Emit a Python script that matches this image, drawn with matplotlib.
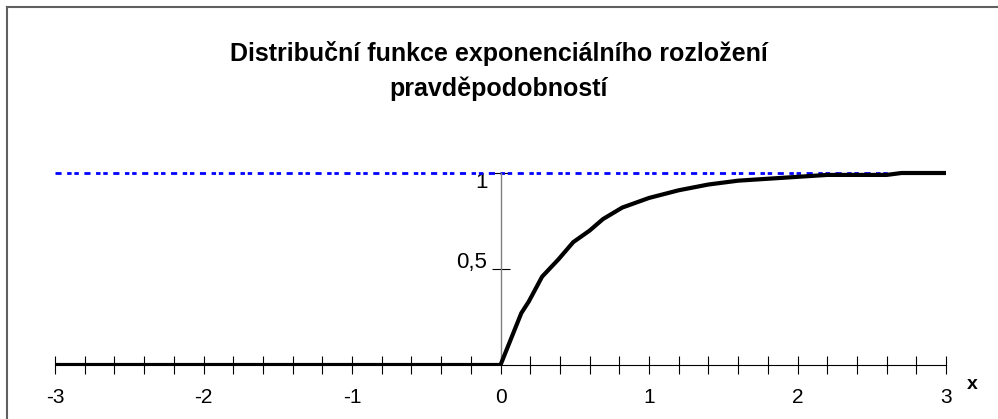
import matplotlib.pyplot as plt
from matplotlib.lines import Line2D
from matplotlib.transforms import ScaledTranslation
from matplotlib.ticker import MultipleLocator, FixedLocator, FixedFormatter

plt.rcParams['font.family'] = ['Liberation Sans', 'DejaVu Sans']

# distribution function F(x) read at the plotted points
x_vals = [-3.0, 0.0, 0.14, 0.19, 0.28, 0.39, 0.49, 0.6, 0.69, 0.82,
          1.0, 1.2, 1.4, 1.6, 1.8, 2.0, 2.2, 2.6, 2.7, 3.0]
f_vals = [0.0, 0.0, 0.27, 0.33, 0.46, 0.55, 0.64, 0.70, 0.76, 0.82,
          0.87, 0.91, 0.94, 0.96, 0.97, 0.98, 0.99, 0.99, 1.0, 1.0]

# asymptote F = 1
limit_x = [-3, 3]
limit_y = [1, 1]

y_ticks = [0.5, 1]
y_labels = ['0,5', '1']

W, H = 998, 419
fig = plt.figure(figsize=(W / 100, H / 100), dpi=100)
ax = fig.add_axes([55 / W, (H - 365) / H, (946 - 55) / W, 192 * 1.05 / H])

ax.plot(limit_x, limit_y, color='#0000ff', lw=2.0,
        linestyle=(0, (2.2, 2.0, 1.6, 1.0, 1.6, 2.0)), zorder=2)
ax.plot(x_vals, f_vals, color='black', lw=3, solid_joinstyle='miter', zorder=3)

ax.set_xlim(-3, 3)
ax.set_ylim(0, 1.05)

for s in ['top', 'right']:
    ax.spines[s].set_visible(False)
ax.spines['bottom'].set_position(('data', 0))
ax.spines['bottom'].set_color('black')
ax.spines['bottom'].set_linewidth(0.8)
ax.spines['left'].set_position(('data', 0))
ax.spines['left'].set_color('#808080')
ax.spines['left'].set_linewidth(1.0)
ax.spines['left'].set_bounds(0, 1)

ax.xaxis.set_major_locator(MultipleLocator(1))
ax.xaxis.set_minor_locator(MultipleLocator(0.2))
ax.xaxis.set_major_formatter(plt.FuncFormatter(lambda v, p: f'{v:g}'))
ax.tick_params(axis='x', which='both', direction='inout', length=13,
               width=0.8, color='black', labelsize=15, pad=10)

ax.yaxis.set_major_locator(FixedLocator(y_ticks))
ax.yaxis.set_major_formatter(FixedFormatter(y_labels))
ax.tick_params(axis='y', which='major', direction='inout', length=13,
               width=0.8, color='black', labelsize=16, pad=3)
# labels sit a little off their ticks: 0,5 above, 1 below
for lab, dy in zip(ax.get_yticklabels(), [9, -7]):
    lab.set_transform(lab.get_transform() + ScaledTranslation(0, dy / 100, fig.dpi_scale_trans))
ax.set_facecolor('none')

ax.text(3.14, -0.1, 'x', fontsize=14, fontweight='bold', ha='left', va='center')

fig.text(0.5, 1 - 61 / H, 'Distribuční funkce exponenciálního rozložení',
         fontsize=18, fontweight='bold', ha='center', va='baseline')
fig.text(0.5, 1 - 96 / H, 'pravděpodobností',
         fontsize=18, fontweight='bold', ha='center', va='baseline')

# chart frame edges
fx, fy = 7 / W, 1 - 7 / H
fig.add_artist(Line2D([fx, fx], [0, fy], transform=fig.transFigure, color='#606060', lw=1.5))
fig.add_artist(Line2D([fx, 1], [fy, fy], transform=fig.transFigure, color='#606060', lw=1.5))

fig.savefig('out.png', dpi=100)
